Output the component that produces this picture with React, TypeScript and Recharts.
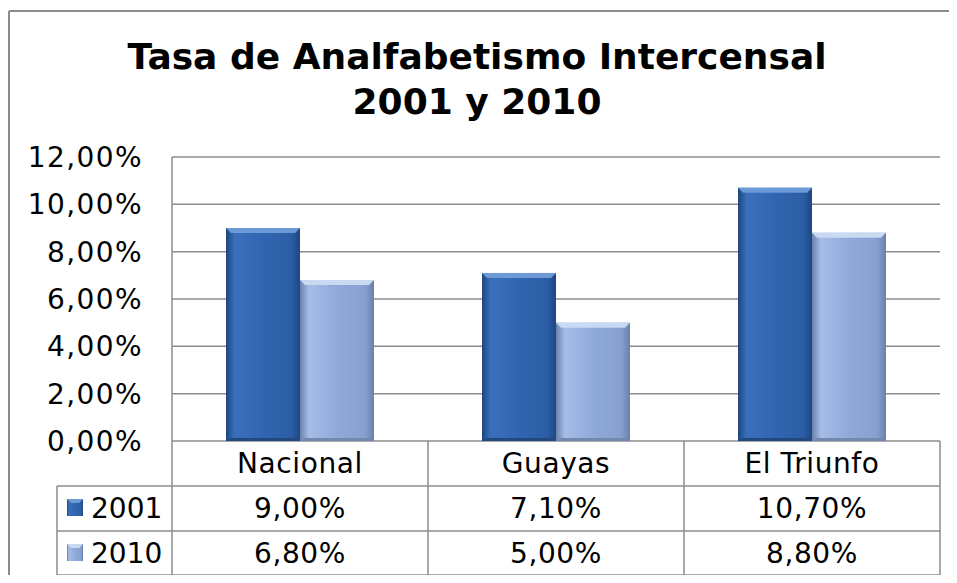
import { BarChart, Bar, XAxis, YAxis, CartesianGrid } from "recharts";

const categories = ["Nacional", "Guayas", "El Triunfo"];
const seriesNames = ["2001", "2010"];
const values2001 = [9.0, 7.1, 10.7];
const values2010 = [6.8, 5.0, 8.8];
const yTicks = [0, 2, 4, 6, 8, 10, 12];

const W = 957;
const H = 583;
const PLOT_LEFT = 172;
const PLOT_RIGHT = 940;
const PLOT_TOP = 157;
const PLOT_BOTTOM = 441;
const BAND = (PLOT_RIGHT - PLOT_LEFT) / categories.length;
const ROW_H = 45;
const LEGEND_COL_W = 115;
const FONT = "'DejaVu Sans', Verdana, sans-serif";
const LINE = "#8c8c8c";

const data = categories.map((name, i) => ({
  name,
  v2001: values2001[i],
  v2010: values2010[i],
}));

const pct = (v: number) => v.toFixed(2).replace(".", ",") + "%";

const palette = {
  v2001: {
    id: "grad2001",
    stops: ["#1d4580", "#3a70ba", "#3165b0", "#2c5ea5", "#1e4782"],
    top: "#6d9ad6",
    bottom: "#22497f",
  },
  v2010: {
    id: "grad2010",
    stops: ["#6a81ad", "#a6bde6", "#8fa9d9", "#86a0cf", "#6a80aa"],
    top: "#c9d9f2",
    bottom: "#7388ae",
  },
};

type Pal = typeof palette.v2001;

const Gradient = ({ c }: { c: Pal }) => (
  <defs>
    <linearGradient id={c.id} x1="0" y1="0" x2="1" y2="0">
      <stop offset="0%" stopColor={c.stops[0]} />
      <stop offset="12%" stopColor={c.stops[1]} />
      <stop offset="50%" stopColor={c.stops[2]} />
      <stop offset="88%" stopColor={c.stops[3]} />
      <stop offset="100%" stopColor={c.stops[4]} />
    </linearGradient>
  </defs>
);

const BevelBar = (props: any) => {
  const { x, y, width, height, c } = props;
  if (!height || height <= 0) return null;
  const b = 5;
  return (
    <g>
      <Gradient c={c} />
      <rect x={x} y={y} width={width} height={height} fill={`url(#${c.id})`} />
      <polygon
        points={`${x},${y} ${x + width},${y} ${x + width - b},${y + b} ${x + b},${y + b}`}
        fill={c.top}
      />
      <polygon
        points={`${x},${y + height} ${x + width},${y + height} ${x + width - b},${y + height - 3} ${x + b},${y + height - 3}`}
        fill={c.bottom}
      />
    </g>
  );
};

const Swatch = ({ x, y, c }: { x: number; y: number; c: Pal }) => (
  <g>
    <Gradient c={c} />
    <rect x={x} y={y} width={16} height={17} fill={`url(#${c.id})`} />
    <polygon points={`${x},${y} ${x + 16},${y} ${x + 12},${y + 4} ${x + 4},${y + 4}`} fill={c.top} />
  </g>
);

const TableTick = (props: any) => {
  const { x, y, payload } = props;
  const i = categories.indexOf(payload.value);
  const left = x - BAND / 2;
  const right = x + BAND / 2;
  const r1 = y + ROW_H;
  const r2 = y + ROW_H * 2;
  const r3 = y + ROW_H * 3 - 1;
  const textProps = {
    fontSize: 28,
    fontFamily: FONT,
    fill: "#000",
    textAnchor: "middle" as const,
    letterSpacing: 0.6,
  };
  return (
    <g>
      <line x1={left} y1={y} x2={left} y2={r3} stroke={LINE} strokeWidth={1.5} />
      {i === categories.length - 1 && (
        <line x1={right} y1={y} x2={right} y2={r3} stroke={LINE} strokeWidth={1.5} />
      )}
      <line x1={left} y1={r1} x2={right} y2={r1} stroke={LINE} strokeWidth={1.5} />
      <line x1={left} y1={r2} x2={right} y2={r2} stroke={LINE} strokeWidth={1.5} />
      <line x1={left} y1={r3} x2={right} y2={r3} stroke={LINE} strokeWidth={1.5} />
      <text x={x} y={y + 32} {...textProps}>{payload.value}</text>
      <text x={x} y={r1 + 32} {...textProps}>{pct(values2001[i])}</text>
      <text x={x} y={r2 + 32} {...textProps}>{pct(values2010[i])}</text>
      {i === 0 && (
        <g>
          <line x1={left - LEGEND_COL_W} y1={r1} x2={left} y2={r1} stroke={LINE} strokeWidth={1.5} />
          <line x1={left - LEGEND_COL_W} y1={r2} x2={left} y2={r2} stroke={LINE} strokeWidth={1.5} />
          <line x1={left - LEGEND_COL_W} y1={r3} x2={left} y2={r3} stroke={LINE} strokeWidth={1.5} />
          <line x1={left - LEGEND_COL_W} y1={r1} x2={left - LEGEND_COL_W} y2={r3} stroke={LINE} strokeWidth={1.5} />
          <Swatch x={left - LEGEND_COL_W + 10} y={r1 + 13} c={palette.v2001} />
          <Swatch x={left - LEGEND_COL_W + 10} y={r2 + 13} c={palette.v2010} />
          <text x={left - LEGEND_COL_W + 34} y={r1 + 32} fontSize={28} fontFamily={FONT} fill="#000">
            {seriesNames[0]}
          </text>
          <text x={left - LEGEND_COL_W + 34} y={r2 + 32} fontSize={28} fontFamily={FONT} fill="#000">
            {seriesNames[1]}
          </text>
        </g>
      )}
    </g>
  );
};

export default function App() {
  return (
    <div style={{ position: "relative", width: W, height: H, margin: -8, overflow: "hidden", background: "#fff" }}>
      <BarChart
        width={W}
        height={H}
        data={data}
        margin={{ top: PLOT_TOP, right: W - PLOT_RIGHT, bottom: 0, left: 0 }}
        barCategoryGap={54}
        barGap={0}
      >
        <CartesianGrid vertical={false} stroke={LINE} strokeWidth={1.5} />
        <YAxis
          width={PLOT_LEFT}
          domain={[0, 12]}
          ticks={yTicks}
          tickFormatter={pct}
          tickLine={false}
          tickSize={0}
          tickMargin={29}
          axisLine={{ stroke: LINE, strokeWidth: 1.5 }}
          tick={{ fontSize: 28, fontFamily: FONT, fill: "#000", letterSpacing: 1.4 }}
          interval={0}
        />
        <XAxis
          dataKey="name"
          height={H - PLOT_BOTTOM}
          axisLine={false}
          tickLine={false}
          tickSize={0}
          tickMargin={0}
          interval={0}
          tick={<TableTick />}
        />
        <Bar
          dataKey="v2001"
          name={seriesNames[0]}
          isAnimationActive={false}
          shape={(p: any) => <BevelBar {...p} c={palette.v2001} />}
        />
        <Bar
          dataKey="v2010"
          name={seriesNames[1]}
          isAnimationActive={false}
          shape={(p: any) => <BevelBar {...p} c={palette.v2010} />}
        />
      </BarChart>
      <svg
        width={W}
        height={H}
        style={{ position: "absolute", left: 0, top: 0, pointerEvents: "none" }}
      >
        <line x1={9} y1={11} x2={W} y2={11} stroke={LINE} strokeWidth={2} />
        <line x1={9} y1={11} x2={9} y2={H} stroke={LINE} strokeWidth={2} />
        <text x={477} y={69} textAnchor="middle" fontSize={36} fontWeight="bold" fontFamily={FONT} fill="#000">
          Tasa de Analfabetismo Intercensal
        </text>
        <text x={477} y={114} textAnchor="middle" fontSize={36} fontWeight="bold" fontFamily={FONT} fill="#000">
          2001 y 2010
        </text>
      </svg>
    </div>
  );
}
